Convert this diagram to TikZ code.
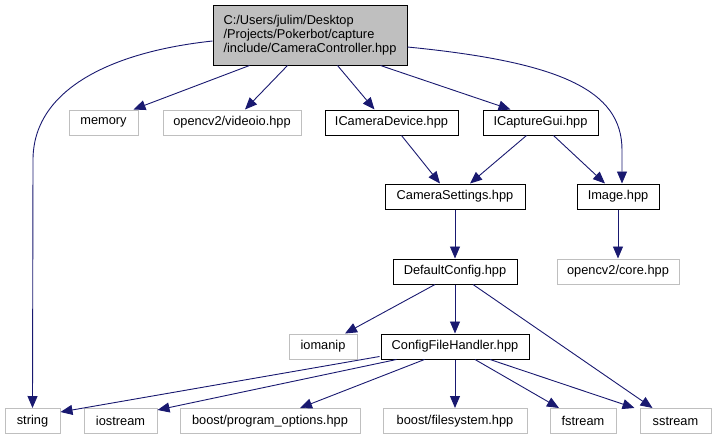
\documentclass[tikz,border=0pt]{standalone}
\usepackage{fontspec}
\setmainfont{Liberation Sans}
\usetikzlibrary{arrows.meta,calc}
\definecolor{edgec}{HTML}{191970}
\definecolor{lgray}{HTML}{BFBFBF}
\tikzset{
  nodebox/.style={draw=black, line width=1pt, fill=white, inner sep=0pt, minimum height=25pt, font=\fontsize{12.8}{14.5}\selectfont},
  extbox/.style={draw=lgray, line width=1pt, fill=white, inner sep=0pt, minimum height=25pt, font=\fontsize{12.8}{14.5}\selectfont},
  mainbox/.style={draw=black, line width=1pt, fill=lgray, inner sep=0pt, minimum width=194pt, minimum height=60pt, align=left, font=\fontsize{12.8}{14.2}\selectfont},
  dep/.style={draw=edgec, line width=0.9pt, -{Triangle[length=12pt,width=10pt]}}
}
\begin{document}
\begin{tikzpicture}[x=1pt,y=-1pt]
\useasboundingbox (0,0) rectangle (715,440);
% nodes
\node[mainbox] (main) at (310,35) {C:/Users/julim/Desktop\\/Projects/Pokerbot/capture\\/include/CameraController.hpp};
\node[extbox, minimum width=69pt] (memory) at (103.5,122.5) {memory};
\node[extbox, minimum width=138pt] (videoio) at (232,122.5) {opencv2/videoio.hpp};
\node[nodebox, minimum width=133pt] (icam) at (391.5,122.5) {ICameraDevice.hpp};
\node[nodebox, minimum width=115pt] (igui) at (540.5,122.5) {ICaptureGui.hpp};
\node[nodebox, minimum width=140pt] (camset) at (455,196.5) {CameraSettings.hpp};
\node[nodebox, minimum width=82pt] (image) at (618,196.5) {Image.hpp};
\node[extbox, minimum width=122pt] (core) at (618,271.5) {opencv2/core.hpp};
\node[nodebox, minimum width=124pt] (defcfg) at (455,271.5) {DefaultConfig.hpp};
\node[extbox, minimum width=68pt] (iomanip) at (323,346.5) {iomanip};
\node[nodebox, minimum width=148pt] (cfh) at (455,346.5) {ConfigFileHandler.hpp};
\node[extbox, minimum width=55pt] (string) at (32.5,421) {string};
\node[extbox, minimum width=73pt] (iostream) at (120.5,421) {iostream};
\node[extbox, minimum width=180pt] (progopt) at (270,421) {boost/program\_options.hpp};
\node[extbox, minimum width=144pt] (filesys) at (455,421) {boost/filesystem.hpp};
\node[extbox, minimum width=66pt] (fstream) at (583,421) {fstream};
\node[extbox, minimum width=71pt] (sstream) at (675.5,421) {sstream};
% edges from main
\draw[dep] ($(main.west)+(0,6)$) .. controls (110,52) and (33,90) .. (33,160) -- (string.north);
\draw[dep] ($(main.south west)+(37,0)$) -- ($(memory.north east)+(-5,0)$);
\draw[dep] ($(main.south west)+(75,0)$) -- ($(videoio.north)+(13,0)$);
\draw[dep] ($(main.south west)+(125,0)$) -- ($(icam.north)+(-17,0)$);
\draw[dep] ($(main.south east)+(-27,0)$) -- ($(igui.north)+(-30,0)$);
\draw[dep] ($(main.east)+(0,12)$) .. controls (560,62) and (622,90) .. (622,150) -- ($(image.north)+(4,0)$);
% middle
\draw[dep] ($(icam.south)+(10,0)$) -- ($(camset.north)+(-15,0)$);
\draw[dep] ($(igui.south)+(-14,0)$) -- ($(camset.north)+(15,0)$);
\draw[dep] ($(igui.south)+(13,0)$) -- ($(image.north)+(-13,0)$);
\draw[dep] (camset) -- (defcfg);
\draw[dep] (image) -- (core);
\draw[dep] ($(defcfg.south)+(-20,0)$) -- ($(iomanip.north)+(22,0)$);
\draw[dep] (defcfg) -- (cfh);
\draw[dep] ($(defcfg.south)+(18,0)$) -- ($(sstream.north)+(-23,0)$);
% from ConfigFileHandler
\draw[dep] ($(cfh.south west)+(-1,-3)$) -- ($(string.north east)+(0,4)$);
\draw[dep] ($(cfh.south west)+(16,0)$) -- ($(iostream.north east)+(0,2)$);
\draw[dep] ($(cfh.south west)+(44,0)$) -- ($(progopt.north)+(30,0)$);
\draw[dep] (cfh) -- (filesys);
\draw[dep] ($(cfh.south)+(20,0)$) -- ($(fstream.north)+(-24,0)$);
\draw[dep] ($(cfh.south)+(35,0)$) -- ($(sstream.north west)+(-5,0)$);
\end{tikzpicture}
\end{document}
